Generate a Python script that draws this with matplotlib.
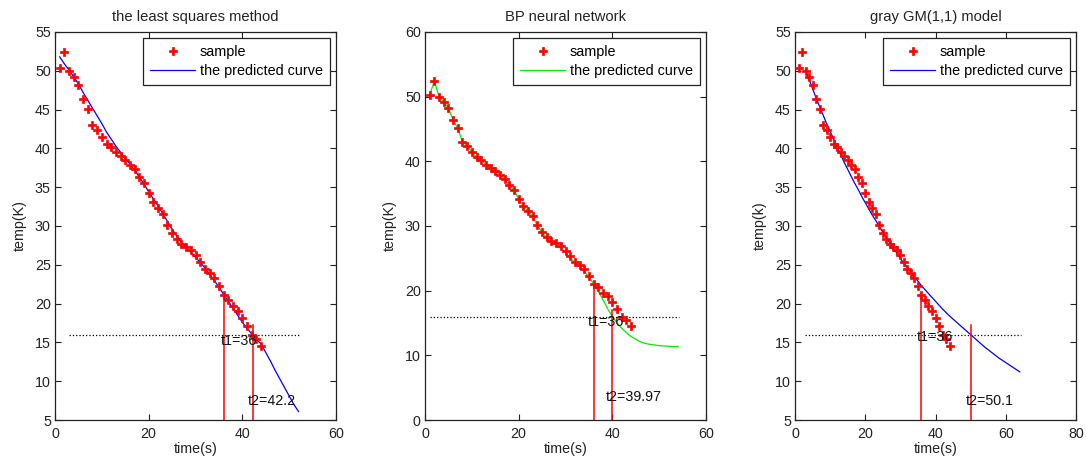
import matplotlib
matplotlib.use("Agg")
import matplotlib.pyplot as plt

plt.rcParams['font.family'] = ['Liberation Sans', 'DejaVu Sans']

# ---- data ----
t_sample = list(range(1, 45))
temp_sample = [50.3, 52.4, 50.0, 49.2, 48.2, 46.4, 45.1, 43.0, 42.4, 41.5,
               40.6, 40.2, 39.5, 39.0, 38.5, 37.9, 37.3, 36.3, 35.6, 34.2,
               33.1, 32.3, 31.5, 30.1, 29.1, 28.3, 27.7, 27.3, 26.9, 26.2,
               25.4, 24.5, 24.0, 23.3, 22.3, 21.1, 20.5, 19.7, 19.1, 18.2,
               17.1, 16.0, 15.4, 14.6]

# least squares predicted curve
t_ls = list(range(1, 53))
temp_ls = [51.8, 50.9, 50.1, 49.2, 48.3, 47.2, 46.2, 45.2, 44.2, 43.2,
           42.1, 41.2, 40.3, 39.5, 38.7, 38.0, 37.2, 36.3, 35.4, 34.4,
           33.5, 32.6, 31.6, 30.6, 29.6, 28.7, 27.9, 27.2, 26.6, 26.0,
           25.3, 24.6, 23.8, 23.0, 22.1, 21.2, 20.3, 19.4, 18.5, 17.6,
           16.8, 16.1, 15.4, 14.8, 13.7, 12.6, 11.4, 10.3, 9.2, 8.1,
           7.0, 6.1]

# BP neural network predicted curve
t_bp = list(range(1, 55))
temp_bp = [50.3, 52.4, 50.0, 49.2, 48.2, 46.4, 45.1, 43.0, 42.4, 41.5,
           40.6, 40.2, 39.5, 39.0, 38.5, 37.9, 37.3, 36.3, 35.6, 34.2,
           33.1, 32.3, 31.5, 30.1, 29.0, 28.2, 27.6, 27.1, 26.6, 25.9,
           25.1, 24.3, 23.7, 23.0, 22.1, 21.1, 19.9, 18.6, 17.2, 16.0,
           15.0, 14.2, 13.5, 12.9, 12.5, 12.1, 11.85, 11.7, 11.6, 11.5,
           11.45, 11.4, 11.35, 11.35]

# gray GM(1,1) predicted curve
t_gm = list(range(3, 65))
temp_gm = [50.1, 48.9, 47.7, 46.5, 45.4, 44.3, 43.2, 42.2, 41.2, 40.2,
           39.2, 38.2, 37.3, 36.4, 35.5, 34.7, 33.8, 33.0, 32.2, 31.4,
           30.7, 29.9, 29.2, 28.5, 27.8, 27.1, 26.5, 25.8, 25.2, 24.6,
           24.0, 23.4, 22.9, 22.3, 21.8, 21.3, 20.8, 20.3, 19.8, 19.3,
           18.85, 18.4, 18.0, 17.6, 17.2, 16.8, 16.4, 16.0, 15.6, 15.2,
           14.8, 14.4, 14.05, 13.7, 13.35, 13.0, 12.7, 12.4, 12.1, 11.8,
           11.5, 11.2]

titles = ['the least squares method', 'BP neural network', 'gray GM(1,1) model']
ylabels = ['temp(K)', 'temp(K)', 'temp(k)']
threshold = 16
t1_vals = [36, 36, 36]
t1_tops = [21.1, 21.1, 21.1]
t2_vals = [42.2, 39.97, 50.1]
t2_tops = [17.2, 17.0, 17.2]
t1_labels = ['t1=36', 't1=36', 't1=36']
t2_labels = ['t2=42.2', 't2=39.97', 't2=50.1']
t1_text_pos = [(35.4, 15.2), (34.8, 15.2), (34.8, 15.7)]
t2_text_pos = [(41.2, 7.5), (38.7, 3.6), (48.7, 7.5)]
dot_ranges = [(3, 52), (1, 54.3), (2.85, 64.2)]
xlims = [(0, 60), (0, 60), (0, 80)]
ylims = [(5, 55), (0, 60), (5, 55)]
xticks = [[0, 20, 40, 60], [0, 20, 40, 60], [0, 20, 40, 60, 80]]
yticks = [list(range(5, 56, 5)), list(range(0, 61, 10)), list(range(5, 56, 5))]
curves = [(t_ls, temp_ls, '#0000ff'), (t_bp, temp_bp, '#00ee00'), (t_gm, temp_gm, '#0000ff')]

fig = plt.figure(figsize=(10.86, 4.59), dpi=100)
W, H = 1086, 459
lefts = [55, 425, 795]
for i in range(3):
    ax = fig.add_axes([lefts[i] / W, 39 / H, 281 / W, 388 / H])
    ax.plot(t_sample, temp_sample, linestyle='none', marker='P', color='red',
            markersize=5.3, markeredgewidth=0.5, markeredgecolor='red',
            label='sample', zorder=3)
    tc, vc, col = curves[i]
    ax.plot(tc, vc, color=col, linewidth=0.9, label='the predicted curve', zorder=2)
    ax.plot(dot_ranges[i], [threshold, threshold], linestyle=':', color='black',
            linewidth=0.9)
    ymin = ylims[i][0]
    ax.plot([t1_vals[i], t1_vals[i]], [ymin, t1_tops[i]], color='red', linewidth=1.1)
    ax.plot([t2_vals[i], t2_vals[i]], [ymin, t2_tops[i]], color='red', linewidth=1.1)
    ax.text(t1_text_pos[i][0], t1_text_pos[i][1], t1_labels[i], fontsize=10.3,
            va='center', ha='left', color='#111111')
    ax.text(t2_text_pos[i][0], t2_text_pos[i][1], t2_labels[i], fontsize=10.3,
            va='center', ha='left', color='#111111')
    ax.set_xlim(*xlims[i])
    ax.set_ylim(*ylims[i])
    ax.set_xticks(xticks[i])
    ax.set_yticks(yticks[i])
    ax.tick_params(direction='in', top=True, right=True, length=4, width=0.8,
                   labelsize=10.3, colors='#222222')
    ax.tick_params(axis='x', pad=5)
    ax.tick_params(axis='y', pad=3)
    for s in ax.spines.values():
        s.set_color('#222222')
        s.set_linewidth(0.9)
    ax.set_title(titles[i], fontsize=10.6, pad=8, color='#222222')
    ax.set_xlabel('time(s)', fontsize=10.3, labelpad=1, color='#222222')
    ax.set_ylabel(ylabels[i], fontsize=10.3, labelpad=6, color='#222222')
    leg = ax.legend(loc='upper right', fontsize=10.4, handlelength=3.1,
                    handletextpad=0.35, borderaxespad=0.4, fancybox=False,
                    framealpha=1, edgecolor='#222222', borderpad=0.5,
                    labelspacing=0.35)
    leg.get_frame().set_linewidth(0.9)

fig.savefig('out.png', dpi=100)
